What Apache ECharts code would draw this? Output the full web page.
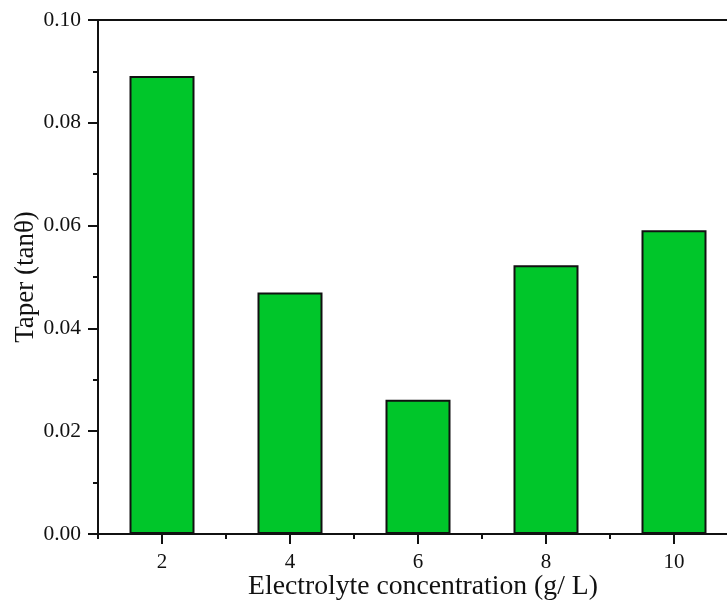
<!DOCTYPE html>
<html>
<head>
<meta charset="utf-8">
<script src="https://cdn.jsdelivr.net/npm/echarts@6/dist/echarts.min.js"></script>
<style>
  html, body { margin: 0; padding: 0; background: #fff; }
  #chart { width: 727px; height: 601px; }
</style>
</head>
<body>
<div id="chart"></div>
<script>
// Electrolyte concentration (g/L) and the measured taper (tan θ)
const categories = ['2', '4', '6', '8', '10'];
const taperValues = [0.0891, 0.0470, 0.0261, 0.0523, 0.0591];
const yTicks = { min: 0, max: 0.10, interval: 0.02 };

const FONT = '"Liberation Serif", "Times New Roman", serif';
const INK = '#111';

// Half-band slots along x: band edges (even index) and band centres (odd index)
const xSlots = [''];
categories.forEach(c => { xSlots.push(c, ''); });
const isCentre = i => i % 2 === 1;
const isEdge = i => i % 2 === 0;

const chart = echarts.init(document.getElementById('chart'), null, { renderer: 'canvas' });

chart.setOption({
  animation: false,
  backgroundColor: '#fff',
  grid: {
    left: 98, top: 20, width: 640, height: 514,
    outerBoundsMode: 'none',
    containLabel: false,
    show: true, borderColor: INK, borderWidth: 2, backgroundColor: 'transparent'
  },
  xAxis: [
    {
      // bar scale
      type: 'category',
      data: categories,
      position: 'bottom',
      boundaryGap: true,
      axisLine: { show: true, lineStyle: { color: INK, width: 2 } },
      axisTick: { show: false },
      axisLabel: { show: false },
      splitLine: { show: false }
    },
    {
      // long ticks at band centres, labels and title
      type: 'category',
      data: xSlots,
      position: 'bottom',
      boundaryGap: false,
      axisLine: { show: false },
      axisTick: { show: true, inside: false, interval: isCentre, length: 10, lineStyle: { color: INK, width: 2 } },
      axisLabel: { show: true, interval: isCentre, color: INK, fontFamily: FONT, fontSize: 21, margin: 18 },
      name: 'Electrolyte concentration (g/ L)',
      nameLocation: 'middle',
      nameGap: 39,
      nameMoveOverlap: false,
      nameTextStyle: { color: INK, fontFamily: FONT, fontSize: 27.7, padding: [0, 0, 0, 10] },
      splitLine: { show: false }
    },
    {
      // short ticks at band edges
      type: 'category',
      data: xSlots,
      position: 'bottom',
      boundaryGap: false,
      axisLine: { show: false },
      axisTick: { show: true, inside: false, interval: isEdge, length: 5, lineStyle: { color: INK, width: 2 } },
      axisLabel: { show: false },
      splitLine: { show: false }
    }
  ],
  yAxis: {
    type: 'value',
    min: yTicks.min,
    max: yTicks.max,
    interval: yTicks.interval,
    axisLine: { show: true, lineStyle: { color: INK, width: 2 } },
    axisTick: { show: true, inside: false, length: 10, lineStyle: { color: INK, width: 2 } },
    minorTick: { show: true, splitNumber: 2, length: 5, lineStyle: { color: INK, width: 2 } },
    axisLabel: {
      color: INK, fontFamily: FONT, fontSize: 21.5, margin: 17,
      formatter: v => v.toFixed(2)
    },
    splitLine: { show: false },
    name: 'Taper (tanθ)',
    nameLocation: 'middle',
    nameGap: 59,
    nameMoveOverlap: false,
    nameRotate: 90,
    nameTextStyle: { color: INK, fontFamily: FONT, fontSize: 27 }
  },
  series: [{
    type: 'bar',
    xAxisIndex: 0,
    data: taperValues,
    barWidth: 65,
    itemStyle: { color: '#00c62a', borderColor: INK, borderWidth: 2 }
  }]
});
</script>
</body>
</html>
